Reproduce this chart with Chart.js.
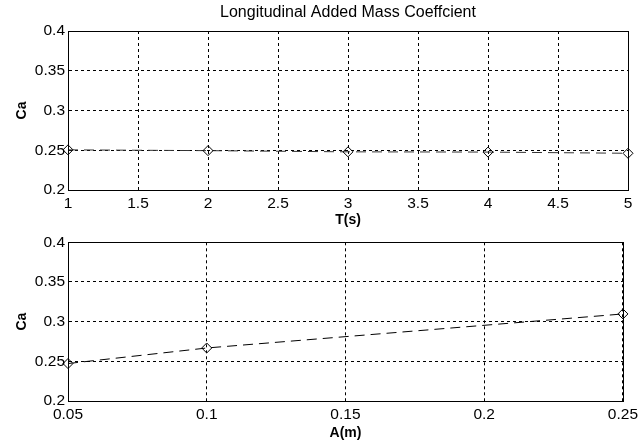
<!DOCTYPE html>
<html>
<head>
<meta charset="utf-8">
<script src="https://cdn.jsdelivr.net/npm/chart.js@4"></script>
<style>
  body { margin: 0; background: #fff; }
  .wrap { position: absolute; left: 0; width: 642px; }
</style>
</head>
<body>
<div class="wrap" style="top:0;height:235px"><canvas id="topChart"></canvas></div>
<div class="wrap" style="top:230px;height:218px"><canvas id="botChart"></canvas></div>
<script>
// top plot: Ca against wave period
const periods = [1, 2, 3, 4, 5];
const caByPeriod = [0.2505, 0.2495, 0.248, 0.2477, 0.2462];
const periodTicks = [1, 1.5, 2, 2.5, 3, 3.5, 4, 4.5, 5];

// bottom plot: Ca against amplitude
const amplitudes = [0.05, 0.1, 0.25];
const caByAmplitude = [0.2472, 0.2668, 0.3097];
const ampTicks = [0.05, 0.1, 0.15, 0.2, 0.25];

const caTicks = [0.2, 0.25, 0.3, 0.35, 0.4];
const mainTitle = 'Longitudinal Added Mass Coeffcient';

const font = "Arial, 'Liberation Sans', sans-serif";

// box round the plot area, like matlab's axes, plus the title centred on it
const frame = {
  id: 'frame',
  afterDatasetsDraw(chart, args, opts) {
    const a = chart.chartArea, ctx = chart.ctx;
    ctx.save();
    ctx.strokeStyle = '#000';
    ctx.lineWidth = 1;
    ctx.setLineDash([]);
    ctx.strokeRect(Math.round(a.left) + 0.5, Math.round(a.top) + 0.5,
      Math.round(a.right - a.left), Math.round(a.bottom - a.top));
    if (opts.text) {
      ctx.fillStyle = '#000';
      ctx.font = '16px ' + font;
      ctx.textAlign = 'center';
      ctx.textBaseline = 'middle';
      ctx.fillText(opts.text, (a.left + a.right) / 2, 13);
    }
    ctx.restore();
  }
};

function makeChart(id, xs, ys, xTicks, xTitle, lineColor, opts) {
  new Chart(document.getElementById(id), {
    type: 'line',
    data: {
      datasets: [{
        data: xs.map((x, i) => ({x: x, y: ys[i]})),
        borderColor: lineColor,
        borderWidth: 1,
        borderDash: [10, 6],
        pointStyle: 'rectRot',
        pointRadius: 5,
        pointBorderColor: '#000',
        pointBorderWidth: 1,
        pointBackgroundColor: 'rgba(255,255,255,0)',
        tension: 0,
        clip: false
      }]
    },
    options: {
      animation: false,
      responsive: true,
      maintainAspectRatio: false,
      layout: {padding: {left: 0, right: 14, top: opts.padTop, bottom: 2}},
      plugins: {
        legend: {display: false},
        tooltip: {enabled: false},
        frame: {text: opts.title}
      },
      scales: {
        x: {
          type: 'linear',
          min: xTicks[0],
          max: xTicks[xTicks.length - 1],
          afterBuildTicks: s => { s.ticks = xTicks.map(v => ({value: v})); },
          afterFit: s => { s.height = opts.xHeight; },
          ticks: {color: '#000', font: {family: font, size: 15.5}, padding: 4, maxRotation: 0,
            callback: v => String(v)},
          grid: {color: '#000', lineWidth: 1, drawTicks: false},
          border: {display: true, color: '#000', dash: [3, 3]},
          title: {display: true, text: xTitle, color: '#000',
            font: {family: font, size: 14, weight: 'bold'}, padding: {top: 0}}
        },
        y: {
          min: 0.2,
          max: 0.4,
          afterBuildTicks: s => { s.ticks = caTicks.map(v => ({value: v})); },
          afterFit: s => { s.width = 68; },
          ticks: {color: '#000', font: {family: font, size: 15.5}, padding: 3,
            callback: v => String(v)},
          grid: {color: '#000', lineWidth: 1, drawTicks: false},
          border: {display: true, color: '#000', dash: [3, 3]},
          title: {display: true, text: 'Ca', color: '#000',
            font: {family: font, size: 14, weight: 'bold'}, padding: {top: 14, bottom: 0}}
        }
      }
    },
    plugins: [frame]
  });
}

makeChart('topChart', periods, caByPeriod, periodTicks, 'T(s)', '#333',
  {title: mainTitle, padTop: 31, xHeight: 43});
makeChart('botChart', amplitudes, caByAmplitude, ampTicks, 'A(m)', '#000',
  {padTop: 11, xHeight: 45});
</script>
</body>
</html>
